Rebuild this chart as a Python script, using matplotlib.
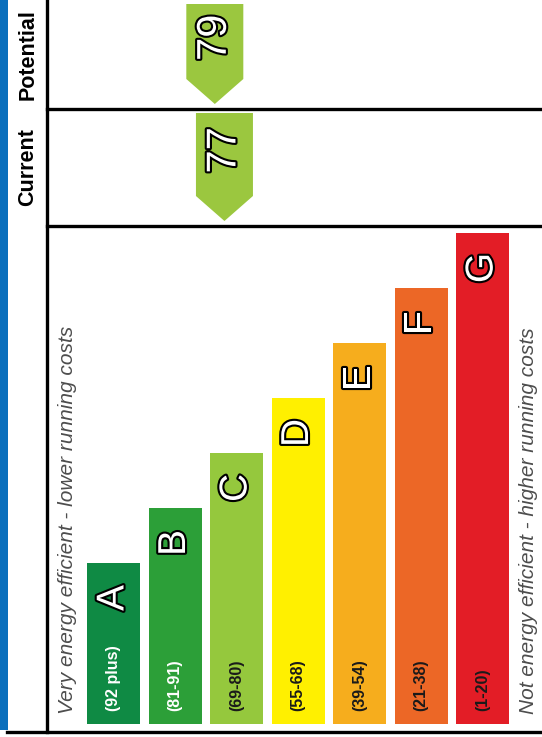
import matplotlib
matplotlib.use("Agg")
import matplotlib.pyplot as plt
from matplotlib.patches import Polygon, Rectangle
import matplotlib.patheffects as pe

# band data
bands = ["A", "B", "C", "D", "E", "F", "G"]
band_ranges = ["(92 plus)", "(81-91)", "(69-80)", "(55-68)", "(39-54)", "(21-38)", "(1-20)"]
band_lo = [92, 81, 69, 55, 39, 21, 1]
band_hi = [100, 91, 80, 68, 54, 38, 20]
band_colors = ["#0f8a44", "#2c9f38", "#95c83d", "#fff000", "#f6ad1d", "#ec6726", "#e31d26"]
range_text_colors = ["white", "white", "#1a1a1a", "#1a1a1a", "#1a1a1a", "#1a1a1a", "#1a1a1a"]

# ratings
row_labels = ["Potential", "Current"]
ratings = [79, 77]

arrow_color = "#9bc73f"
blue = "#0a6fbd"

# layout (pixels)
W, H = 542, 737
bar_x0, bar_pitch, bar_w = 113.5, 61.5, 53
bar_base, bar_h0, bar_step = 724, 161, 55
row_edges = [0, 109, 226]
vline_x = 47
bottom_y = 732

fig = plt.figure(figsize=(W / 100, H / 100), dpi=100)
ax = fig.add_axes([0, 0, 1, 1])
ax.set_xlim(0, W)
ax.set_ylim(H, 0)
ax.axis("off")

outline = [pe.withStroke(linewidth=3.0, foreground="black")]

# blue side strip
ax.add_patch(Rectangle((0, 0), 7.5, 730, color=blue, lw=0))

# grid lines
ax.plot([vline_x, vline_x], [0, bottom_y], color="black", lw=2.4)
for y in row_edges[1:]:
    ax.plot([vline_x, W], [y, y], color="black", lw=2.4)
ax.plot([7, W], [bottom_y, bottom_y], color="black", lw=2.4)

# row labels
for i, lab in enumerate(row_labels):
    yc = (row_edges[i] + row_edges[i + 1]) / 2
    ax.text(28, yc, lab, rotation=90, ha="center", va="center",
            fontsize=15.5, fontweight="bold", family="Liberation Sans", color="black")

# band bars
xs = [bar_x0 + i * bar_pitch for i in range(len(bands))]
heights = [bar_h0 + i * bar_step for i in range(len(bands))]
ax.bar(xs, [-h for h in heights], bottom=bar_base, width=bar_w, color=band_colors, lw=0)

for x, h, b, r, tc in zip(xs, heights, bands, band_ranges, range_text_colors):
    top = bar_base - h
    ax.text(x, top + 35, b, rotation=90, ha="center", va="center", fontsize=28,
            family="Liberation Sans", color="white", path_effects=outline)
    ax.text(x, 711, r, rotation=90, ha="center", va="bottom", fontsize=11.5,
            fontweight="bold", family="Liberation Sans", color=tc)

# side captions
ax.text(68, 714, "Very energy efficient - lower running costs", rotation=90,
        ha="center", va="bottom", fontsize=15, style="italic",
        family="Liberation Sans", color="#4d4d4d")
ax.text(529, 714, "Not energy efficient - higher running costs", rotation=90,
        ha="center", va="bottom", fontsize=15, style="italic",
        family="Liberation Sans", color="#4d4d4d")

# rating arrows
arrow_w, point_depth = 57, 25
for i, val in enumerate(ratings):
    k = next(j for j in range(len(bands)) if band_lo[j] <= val <= band_hi[j])
    left = xs[k] - bar_w / 2
    xc = left + (band_hi[k] - val) / (band_hi[k] - band_lo[k]) * bar_w
    top = row_edges[i] + 4
    bot = row_edges[i + 1] - 5
    rect_bot = bot - point_depth
    pts = [(xc - arrow_w / 2, top), (xc + arrow_w / 2, top), (xc + arrow_w / 2, rect_bot),
           (xc, bot), (xc - arrow_w / 2, rect_bot)]
    ax.add_patch(Polygon(pts, closed=True, color=arrow_color, lw=0))
    ax.text(xc, top + (rect_bot - top) * 0.45, str(val), rotation=90, ha="center",
            va="center", fontsize=30, family="Liberation Sans", color="white",
            path_effects=outline)

fig.savefig("out.png", dpi=100, facecolor="white")
